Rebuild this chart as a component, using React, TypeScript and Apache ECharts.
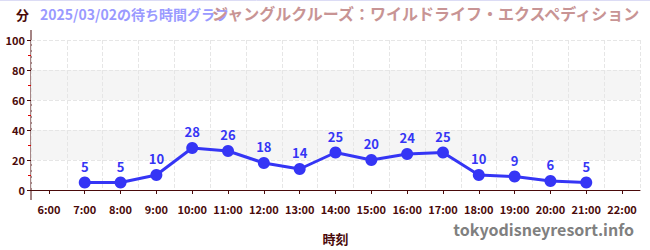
import React, { useEffect, useRef } from "react";
import * as echarts from "echarts";

const hours = ["6:00","7:00","8:00","9:00","10:00","11:00","12:00","13:00","14:00","15:00","16:00","17:00","18:00","19:00","20:00","21:00","22:00"];
const waits: (number | null)[] = [null, 5, 5, 10, 28, 26, 18, 14, 25, 20, 24, 25, 10, 9, 6, 5, null];
const yTicks = [0, 20, 40, 60, 80, 100];

const FONT = "'Noto Sans CJK JP', 'Noto Sans', sans-serif";
const AXIS = "#4a0a0a";

export default function App() {
  const ref = useRef<HTMLDivElement>(null);
  useEffect(() => {
    document.body.style.margin = "0";
    const chart = echarts.init(ref.current!, null, { renderer: "svg" });
    chart.setOption({
      animation: false,
      grid: { left: 31, right: 10, top: 40, bottom: 60 },
      graphic: [
        { type: "line", shape: { x1: 0, y1: 0.5, x2: 650, y2: 0.5 }, style: { stroke: "#dcdcf5", lineWidth: 1 } },
        { type: "line", shape: { x1: 31, y1: 30, x2: 31, y2: 200 }, style: { stroke: AXIS, lineWidth: 1 } },
        { type: "text", left: 16, top: 8, style: { text: "分", font: `bold 13px ${FONT}`, fill: AXIS } },
        { type: "text", left: 40, top: 7, style: { text: "2025/03/02の待ち時間グラフ", font: `bold 14px ${FONT}`, fill: "#9a9aff" } },
        { type: "text", right: 6, top: 5, style: { text: "ジャングルクルーズ：ワイルドライフ・エクスペディション", font: `bold 16px ${FONT}`, fill: "#c89494" } },
        { type: "text", right: 16, top: 221, style: { text: "tokyodisneyresort.info", font: `bold 16px ${FONT}`, fill: "#808080" } },
      ],
      xAxis: {
        type: "category",
        data: hours,
        offset: 10,
        boundaryGap: true,
        axisLine: { show: true, lineStyle: { color: AXIS, width: 1 } },
        axisTick: { show: true, alignWithLabel: true, length: 4, lineStyle: { color: AXIS } },
        axisLabel: { color: AXIS, fontSize: 11, fontWeight: "bold", fontFamily: FONT, margin: 3, interval: 0 },
        splitLine: { show: true, interval: 0, lineStyle: { color: "#e6e6e6", type: "dashed" } },
        name: "時刻",
        nameLocation: "middle",
        nameGap: 32,
        nameTextStyle: { color: AXIS, fontSize: 13, fontWeight: "bold", fontFamily: FONT },
      },
      yAxis: {
        type: "value",
        min: yTicks[0],
        max: yTicks[yTicks.length - 1],
        interval: 20,
        axisLine: { show: false },
        axisTick: { show: true, length: 4, inside: false, lineStyle: { color: AXIS } },
        minorTick: { show: true, splitNumber: 2, length: 3, lineStyle: { color: "#e00000" } },
        axisLabel: { color: AXIS, fontSize: 11, fontWeight: "bold", fontFamily: FONT, margin: 6 },
        splitLine: { show: true, lineStyle: { color: "#e6e6e6", type: "dashed" } },
        splitArea: { show: true, areaStyle: { color: ["rgba(0,0,0,0)", "#f5f5f5"] } },
      },
      series: [
        {
          type: "line",
          data: waits,
          symbol: "circle",
          symbolSize: 12,
          lineStyle: { color: "#3535f5", width: 3 },
          itemStyle: { color: "#3535f5" },
          label: {
            show: true,
            position: "top",
            distance: 4,
            color: "#3535f5",
            fontSize: 13,
            fontWeight: "bold",
            fontFamily: FONT,
          },
        },
      ],
    });
    return () => chart.dispose();
  }, []);
  return <div ref={ref} style={{ width: 650, height: 250 }} />;
}
